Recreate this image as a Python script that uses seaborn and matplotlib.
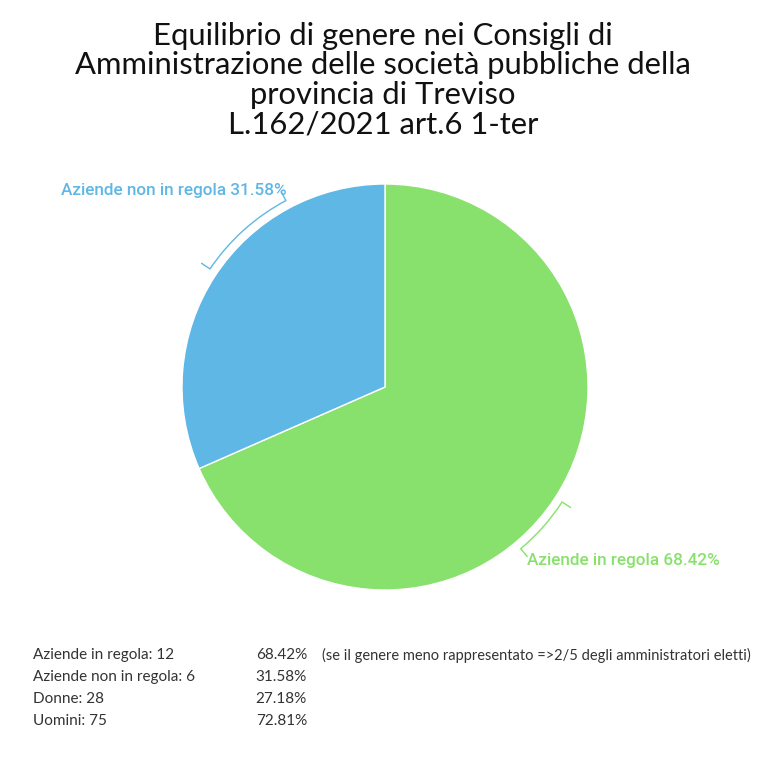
import matplotlib
matplotlib.use("Agg")
import matplotlib.pyplot as plt
from matplotlib.patches import Arc
import numpy as np
import seaborn as sns

sns.set_theme(style="white")
plt.rcParams['font.family'] = ['Lato', 'DejaVu Sans']

title = "Equilibrio di genere nei Consigli di\nAmministrazione delle società pubbliche della\nprovincia di Treviso\nL.162/2021 art.6 1-ter"
categories = ["Aziende in regola", "Aziende non in regola"]
shares = [68.42, 31.58]
pct_labels = ["68.42%", "31.58%"]
colors = ["#88E16C", "#5FB7E5"]

stat_labels = ["Aziende in regola: 12", "Aziende non in regola: 6", "Donne: 28", "Uomini: 75"]
stat_pcts = ["68.42%", "31.58%", "27.18%", "72.81%"]
note = "(se il genere meno rappresentato =>2/5 degli amministratori eletti)"

W, H = 769, 772
fig = plt.figure(figsize=(W / 100, H / 100), dpi=100)
fig.patch.set_facecolor("white")

fig.text(383 / W, 1 - 22 / H, title, ha="center", va="top", fontsize=22.3,
         color="#111111", linespacing=1.06, family=['Lato', 'DejaVu Sans'])

cx, cy, r = 385, 387, 203
ax = fig.add_axes([(cx - r) / W, 1 - (cy + r) / H, 2 * r / W, 2 * r / H])
ax.pie(shares, colors=colors, startangle=90, counterclock=False, radius=1,
       wedgeprops=dict(edgecolor="white", linewidth=1))
ax.set_xlim(-1, 1)
ax.set_ylim(-1, 1)
ax.set_aspect("auto")
ax.axis("off")

def bracket(a1, a2, color, rr=1.04):
    ax.add_patch(Arc((0, 0), 2 * rr, 2 * rr, theta1=a1, theta2=a2, color=color,
                     lw=1, clip_on=False))
    for a in (a1, a2):
        t = np.deg2rad(a)
        ax.plot([rr * np.cos(t), (rr + 0.05) * np.cos(t)],
                [rr * np.sin(t), (rr + 0.05) * np.sin(t)], color=color, lw=1,
                clip_on=False)

bracket(118, 146, colors[1])
bracket(-50, -33, colors[0])

lab_family = ['Roboto', 'DejaVu Sans']
fig.text(287 / W, 1 - 190 / H, f"{categories[1]} {pct_labels[1]}", ha="right",
         va="center", fontsize=12.3, fontweight="medium", color=colors[1], family=lab_family)
fig.text(527 / W, 1 - 560 / H, f"{categories[0]} {pct_labels[0]}", ha="left",
         va="center", fontsize=12.3, fontweight="medium", color=colors[0], family=lab_family)

ys = [655, 677, 699, 721]
for y, lab, p in zip(ys, stat_labels, stat_pcts):
    fig.text(33 / W, 1 - y / H, lab, ha="left", va="center", fontsize=11, color="#333333")
    fig.text(307 / W, 1 - y / H, p, ha="right", va="center", fontsize=11, color="#333333")
fig.text(322 / W, 1 - ys[0] / H, note, ha="left", va="center", fontsize=10.5, color="#333333")

fig.savefig("out.png", dpi=100, facecolor="white")
